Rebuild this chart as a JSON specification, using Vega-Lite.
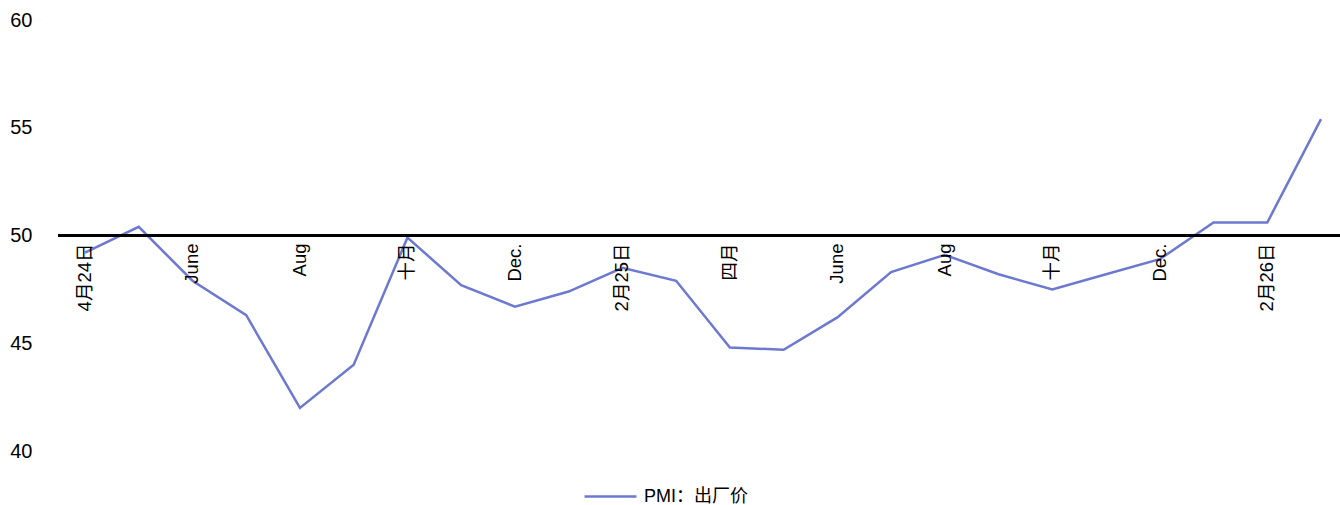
{
  "$schema": "https://vega.github.io/schema/vega-lite/v6.json",
  "width": 1282,
  "height": 431,
  "autosize": {"type": "none"},
  "padding": {"left": 58, "top": 20, "right": 0, "bottom": 54},
  "background": "white",
  "config": {
    "view": {"stroke": null},
    "font": "Liberation Sans, Noto Sans CJK SC",
    "axis": {"labelFont": "Liberation Sans, Noto Sans CJK SC", "labelColor": "#000000"},
    "legend": {"labelFont": "Liberation Sans, Noto Sans CJK SC", "labelColor": "#000000"}
  },
  "data": {
    "values": [
      {"month": "2024-04", "label": "4月24日", "series": "PMI：出厂价", "value": 49.2},
      {"month": "2024-05", "label": "", "series": "PMI：出厂价", "value": 50.4},
      {"month": "2024-06", "label": "June", "series": "PMI：出厂价", "value": 47.9},
      {"month": "2024-07", "label": "", "series": "PMI：出厂价", "value": 46.3},
      {"month": "2024-08", "label": "Aug", "series": "PMI：出厂价", "value": 42.0},
      {"month": "2024-09", "label": "", "series": "PMI：出厂价", "value": 44.0},
      {"month": "2024-10", "label": "十月", "series": "PMI：出厂价", "value": 49.9},
      {"month": "2024-11", "label": "", "series": "PMI：出厂价", "value": 47.7},
      {"month": "2024-12", "label": "Dec.", "series": "PMI：出厂价", "value": 46.7},
      {"month": "2025-01", "label": "", "series": "PMI：出厂价", "value": 47.4},
      {"month": "2025-02", "label": "2月25日", "series": "PMI：出厂价", "value": 48.5},
      {"month": "2025-03", "label": "", "series": "PMI：出厂价", "value": 47.9},
      {"month": "2025-04", "label": "四月", "series": "PMI：出厂价", "value": 44.8},
      {"month": "2025-05", "label": "", "series": "PMI：出厂价", "value": 44.7},
      {"month": "2025-06", "label": "June", "series": "PMI：出厂价", "value": 46.2},
      {"month": "2025-07", "label": "", "series": "PMI：出厂价", "value": 48.3},
      {"month": "2025-08", "label": "Aug", "series": "PMI：出厂价", "value": 49.1},
      {"month": "2025-09", "label": "", "series": "PMI：出厂价", "value": 48.2},
      {"month": "2025-10", "label": "十月", "series": "PMI：出厂价", "value": 47.5},
      {"month": "2025-11", "label": "", "series": "PMI：出厂价", "value": 48.2},
      {"month": "2025-12", "label": "Dec.", "series": "PMI：出厂价", "value": 48.9},
      {"month": "2026-01", "label": "", "series": "PMI：出厂价", "value": 50.6},
      {"month": "2026-02", "label": "2月26日", "series": "PMI：出厂价", "value": 50.6},
      {"month": "2026-03", "label": "", "series": "PMI：出厂价", "value": 55.4}
    ]
  },
  "layer": [
    {
      "mark": {"type": "line", "strokeWidth": 2.5},
      "encoding": {
        "x": {
          "field": "month",
          "type": "ordinal",
          "sort": null,
          "scale": {"type": "point", "padding": 0.428, "align": 0.587},
          "axis": null
        },
        "y": {
          "field": "value",
          "type": "quantitative",
          "scale": {"domain": [40, 60], "nice": false, "zero": false},
          "axis": {
            "title": null,
            "values": [40, 45, 50, 55, 60],
            "grid": false,
            "domain": false,
            "ticks": false,
            "labelFontSize": 20,
            "labelPadding": 26
          }
        },
        "color": {
          "field": "series",
          "type": "nominal",
          "scale": {"range": ["#6d78d0"]},
          "legend": {
            "title": null,
            "orient": "none",
            "legendX": 525,
            "legendY": 449,
            "symbolType": "stroke",
            "symbolSize": 2704,
            "symbolStrokeWidth": 2.5,
            "labelFontSize": 18,
            "labelOffset": 6
          }
        }
      }
    },
    {
      "mark": {"type": "rule", "color": "#000000", "strokeWidth": 2.5},
      "encoding": {"y": {"datum": 50}}
    },
    {
      "mark": {
        "type": "text",
        "angle": 270,
        "align": "right",
        "baseline": "middle",
        "dx": -8,
        "fontSize": 18.5,
        "color": "#000000"
      },
      "encoding": {
        "x": {"field": "month", "type": "ordinal", "sort": null},
        "y": {"datum": 50},
        "text": {"field": "label"}
      }
    }
  ]
}
